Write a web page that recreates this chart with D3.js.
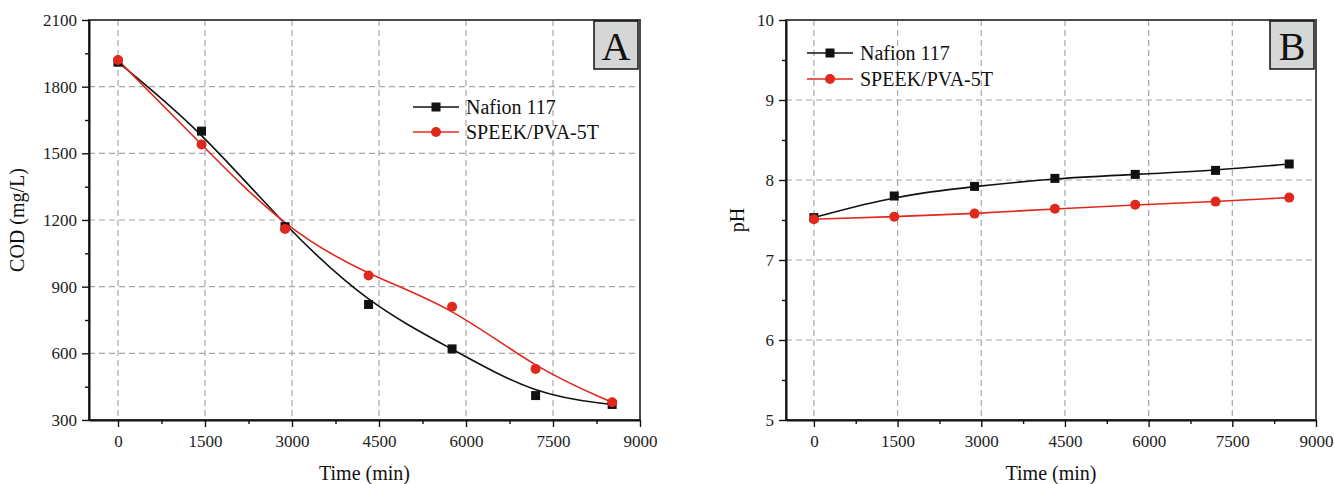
<!DOCTYPE html>
<html>
<head>
<meta charset="utf-8">
<script src="https://cdn.jsdelivr.net/npm/d3@7"></script>
<style>
  body { margin: 0; background: #fff; }
  svg { display: block; font-family: "Liberation Serif", "Times New Roman", serif; }
</style>
</head>
<body>
<svg id="chart" width="1334" height="484"></svg>
<script>
// sampling times (min)
const timeMin = [0, 1440, 2880, 4320, 5760, 7200, 8520];
// COD (mg/L)
const codNafion = [1910, 1600, 1170, 820, 620, 410, 370];
const codSpeek = [1920, 1540, 1160, 950, 810, 530, 380];
// pH
const phNafion = [7.53, 7.80, 7.92, 8.02, 8.07, 8.12, 8.20];
const phSpeek = [7.51, 7.54, 7.58, 7.64, 7.69, 7.73, 7.78];

const seriesNames = ["Nafion 117", "SPEEK/PVA-5T"];
const xTicks = [0, 1500, 3000, 4500, 6000, 7500, 9000];
const codTicks = [300, 600, 900, 1200, 1500, 1800, 2100];
const phTicks = [5, 6, 7, 8, 9, 10];

const RED = "#e0281c";
const BLACK = "#111";
const fmt = d3.format("d");

const svg = d3.select("#chart");

function drawPanel(o) {
  const g = svg.append("g");
  const x = d3.scaleLinear().domain([-500, 9000]).range([o.left, o.right]);
  const y = d3.scaleLinear().domain(o.yDomain).range([o.bottom, o.top]);

  // dashed grid
  g.selectAll(".vgrid").data(xTicks.slice(0, -1)).join("line")
    .attr("x1", d => x(d)).attr("x2", d => x(d))
    .attr("y1", o.top).attr("y2", o.bottom)
    .attr("stroke", "#a8a8a8").attr("stroke-width", 1.2).attr("stroke-dasharray", "6,4");
  g.selectAll(".hgrid").data(o.yTicks.slice(1, -1)).join("line")
    .attr("x1", o.left).attr("x2", o.right)
    .attr("y1", d => y(d)).attr("y2", d => y(d))
    .attr("stroke", "#a8a8a8").attr("stroke-width", 1.2).attr("stroke-dasharray", "6,4");

  // frame (top + right)
  g.append("rect")
    .attr("x", o.left).attr("y", o.top)
    .attr("width", o.right - o.left).attr("height", o.bottom - o.top)
    .attr("fill", "none").attr("stroke", "#4a4a4a").attr("stroke-width", 2);

  // axes
  const xMinor = d3.range(750, 9000, 1500);
  g.append("g").attr("transform", `translate(0,${o.bottom})`)
    .call(d3.axisBottom(x).tickValues(xMinor).tickSize(4).tickFormat(""))
    .call(a => a.select(".domain").remove());
  const xa = g.append("g").attr("transform", `translate(0,${o.bottom})`)
    .call(d3.axisBottom(x).tickValues(xTicks).tickFormat(fmt).tickSize(7).tickSizeOuter(0).tickPadding(8));
  xa.selectAll("text").attr("font-size", 17).attr("fill", "#222").attr("font-family", "Liberation Serif");

  g.append("g").attr("transform", `translate(${o.left},0)`)
    .call(d3.axisLeft(y).tickValues(o.yMinor).tickSize(4).tickFormat(""))
    .call(a => a.select(".domain").remove());
  const ya = g.append("g").attr("transform", `translate(${o.left},0)`)
    .call(d3.axisLeft(y).tickValues(o.yTicks).tickFormat(fmt).tickSize(7).tickSizeOuter(0).tickPadding(5));
  ya.selectAll("text").attr("font-size", 17).attr("fill", "#222").attr("font-family", "Liberation Serif");

  g.selectAll(".domain").attr("stroke", "#111").attr("stroke-width", 2);
  g.selectAll(".tick line").attr("stroke", "#111").attr("stroke-width", 1.4);

  // axis titles
  g.append("text")
    .attr("x", (o.left + o.right) / 2).attr("y", 480)
    .attr("text-anchor", "middle").attr("font-size", 20).attr("fill", "#111")
    .text("Time (min)");
  g.append("text")
    .attr("transform", `translate(${o.yTitleX},${(o.top + o.bottom) / 2}) rotate(-90)`)
    .attr("text-anchor", "middle").attr("font-size", 20).attr("fill", "#111")
    .text(o.yTitle);

  // series
  const line = d3.line().x((d, i) => x(timeMin[i])).y(d => y(d)).curve(d3.curveBasis);
  g.append("path").datum(o.s1).attr("d", line)
    .attr("fill", "none").attr("stroke", BLACK).attr("stroke-width", 1.6);
  g.append("path").datum(o.s2).attr("d", line)
    .attr("fill", "none").attr("stroke", RED).attr("stroke-width", 1.6);

  g.selectAll(".sq").data(o.s1).join("rect")
    .attr("x", (d, i) => x(timeMin[i]) - 4.5).attr("y", d => y(d) - 4.5)
    .attr("width", 9).attr("height", 9).attr("fill", BLACK);
  g.selectAll(".ci").data(o.s2).join("circle")
    .attr("cx", (d, i) => x(timeMin[i])).attr("cy", d => y(d))
    .attr("r", 5).attr("fill", RED);

  // legend
  const leg = g.append("g");
  seriesNames.forEach((name, i) => {
    const ly = o.legY[i];
    const col = i === 0 ? BLACK : RED;
    leg.append("line").attr("x1", o.legX).attr("x2", o.legX + 46)
      .attr("y1", ly).attr("y2", ly).attr("stroke", col).attr("stroke-width", 1.6);
    if (i === 0) {
      leg.append("rect").attr("x", o.legX + 23 - 4.5).attr("y", ly - 4.5)
        .attr("width", 9).attr("height", 9).attr("fill", col);
    } else {
      leg.append("circle").attr("cx", o.legX + 23).attr("cy", ly).attr("r", 5).attr("fill", col);
    }
    leg.append("text").attr("x", o.legX + 53).attr("y", ly + 7)
      .attr("font-size", 20).attr("fill", "#111").text(name);
  });

  // panel letter
  g.append("rect")
    .attr("x", o.right - 46).attr("y", o.top + 1)
    .attr("width", 44).attr("height", 48)
    .attr("fill", "#d5d7d7").attr("stroke", "#111").attr("stroke-width", 1.5);
  g.append("text")
    .attr("x", o.right - 24).attr("y", o.top + 40)
    .attr("text-anchor", "middle").attr("font-size", 40).attr("fill", "#111")
    .text(o.letter);
}

drawPanel({
  left: 89, right: 640, top: 20, bottom: 420,
  yDomain: [300, 2100], yTicks: codTicks, yMinor: d3.range(450, 2100, 300),
  yTitle: "COD (mg/L)", yTitleX: 24,
  s1: codNafion, s2: codSpeek,
  legX: 413, legY: [107, 132], letter: "A"
});

drawPanel({
  left: 786, right: 1316, top: 20, bottom: 420,
  yDomain: [5, 10], yTicks: phTicks, yMinor: d3.range(5.5, 10, 1),
  yTitle: "pH", yTitleX: 744,
  s1: phNafion, s2: phSpeek,
  legX: 807, legY: [53, 79], letter: "B"
});
</script>
</body>
</html>
